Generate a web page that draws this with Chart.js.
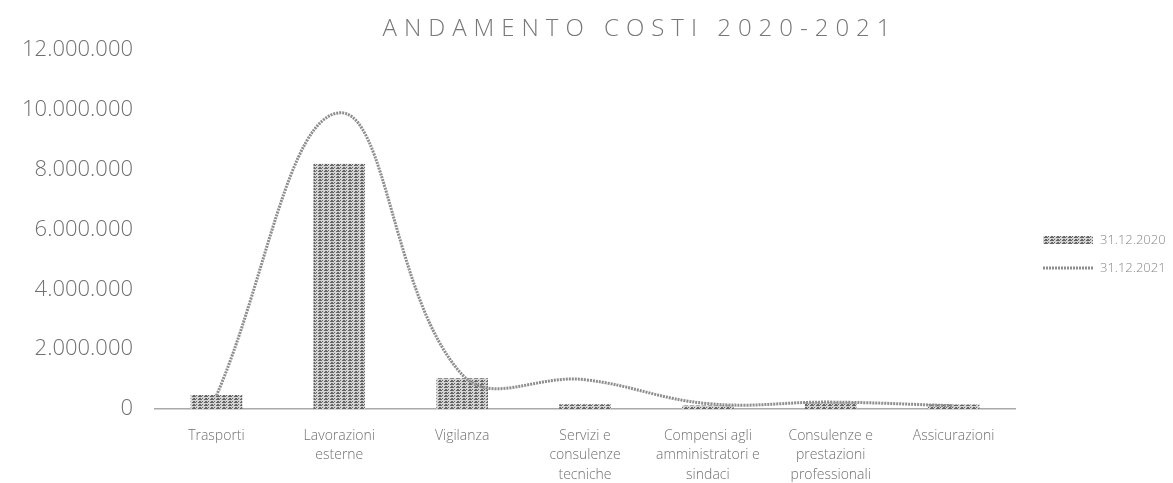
<!DOCTYPE html>
<html>
<head>
<meta charset="utf-8">
<script src="https://cdn.jsdelivr.net/npm/chart.js@4.4.1/dist/chart.umd.min.js"></script>
<style>
html,body{margin:0;padding:0;background:#fff;}
#wrap{width:1173px;height:483px;}
</style>
</head>
<body>
<div id="wrap"><canvas id="c" width="1173" height="483"></canvas></div>
<script>
const categories = [
  "Trasporti",
  ["Lavorazioni", "esterne"],
  "Vigilanza",
  ["Servizi e", "consulenze", "tecniche"],
  ["Compensi agli", "amministratori e", "sindaci"],
  ["Consulenze e", "prestazioni", "professionali"],
  "Assicurazioni"
];
const values2020 = [470000, 8200000, 1030000, 160000, 120000, 220000, 150000];
const values2021 = [450000, 9900000, 1150000, 980000, 180000, 230000, 110000];
const seriesNames = ["31.12.2020", "31.12.2021"];
const yTicks = [0, 2000000, 4000000, 6000000, 8000000, 10000000, 12000000];
const titleText = "ANDAMENTO COSTI 2020-2021";

function makePattern() {
  const p = document.createElement('canvas');
  p.width = 6; p.height = 3;
  const g = p.getContext('2d');
  g.fillStyle = '#d4d4d4';
  g.fillRect(0, 0, 6, 3);
  g.fillStyle = '#666';
  g.fillRect(0, 0, 4, 1);
  g.fillRect(1, 2, 2, 1);
  g.fillRect(4, 2, 1, 1);
  return document.getElementById('c').getContext('2d').createPattern(p, 'repeat');
}
const barFill = makePattern();
const lineColor = '#8e8e8e';
const textColor = '#707070';

const fmt = v => v.toLocaleString('it-IT');

const titlePlugin = {
  id: 'customTitle',
  afterDraw(chart) {
    const ctx = chart.ctx;
    ctx.save();
    ctx.font = '300 24px "Open Sans"';
    ctx.letterSpacing = '7px';
    ctx.fillStyle = '#777';
    ctx.textAlign = 'center';
    ctx.textBaseline = 'middle';
    ctx.fillText(titleText, 640, 29);
    ctx.restore();
  }
};

const legendPlugin = {
  id: 'customLegend',
  afterDraw(chart) {
    const ctx = chart.ctx;
    ctx.save();
    const x0 = 1043, w = 50;
    const y1 = 240, y2 = 268;
    ctx.fillStyle = barFill;
    ctx.fillRect(x0, y1 - 4, w, 8);
    ctx.strokeStyle = lineColor;
    ctx.lineWidth = 3;
    ctx.setLineDash([2, 1]);
    ctx.beginPath();
    ctx.moveTo(x0, y2);
    ctx.lineTo(x0 + w, y2);
    ctx.stroke();
    ctx.setLineDash([]);
    ctx.font = '300 13px "Open Sans"';
    ctx.fillStyle = '#888';
    ctx.textBaseline = 'middle';
    ctx.textAlign = 'left';
    ctx.fillText(seriesNames[0], x0 + w + 7, y1);
    ctx.fillText(seriesNames[1], x0 + w + 7, y2);
    ctx.restore();
  }
};

new Chart(document.getElementById('c'), {
  data: {
    labels: categories,
    datasets: [
      {
        type: 'line',
        label: seriesNames[1],
        data: values2021,
        borderColor: lineColor,
        borderWidth: 3,
        borderDash: [2, 1],
        tension: 0.4,
        pointRadius: 0,
        fill: false,
        order: 0
      },
      {
        type: 'bar',
        label: seriesNames[0],
        data: values2020,
        backgroundColor: barFill,
        borderWidth: 0,
        categoryPercentage: 1,
        barPercentage: 0.42,
        order: 1
      }
    ]
  },
  options: {
    responsive: false,
    animation: false,
    layout: { padding: { top: 50, right: 158, left: 0, bottom: 0 } },
    plugins: {
      legend: { display: false },
      title: { display: false },
      tooltip: { enabled: false }
    },
    scales: {
      x: {
        grid: { display: false, drawTicks: false },
        border: { display: true, color: '#aaa', width: 1.5, dash: [1, 4] },
        ticks: {
          color: textColor,
          font: { family: '"Open Sans"', size: 14, weight: '300', lineHeight: 1.4 },
          padding: 17,
          maxRotation: 0,
          autoSkip: false
        },
        afterFit(axis) { axis.height = 74; }
      },
      y: {
        min: 0,
        max: 12000000,
        grid: { display: false, drawTicks: false },
        border: { display: false },
        afterBuildTicks(axis) { axis.ticks = yTicks.map(v => ({ value: v })); },
        ticks: {
          color: textColor,
          font: { family: '"Open Sans"', size: 22, weight: '300' },
          padding: 22,
          callback: v => fmt(v)
        },
        afterFit(axis) { axis.width = 155; }
      }
    }
  },
  plugins: [titlePlugin, legendPlugin]
});
</script>
</body>
</html>
